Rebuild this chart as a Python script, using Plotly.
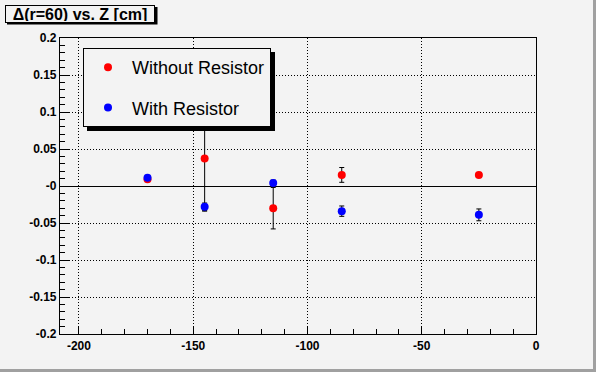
import plotly.graph_objects as go

# ---- data ----
z = [-170, -145, -115, -85, -25]
without_res = [0.009, 0.037, -0.030, 0.015, 0.015]
without_err = [0.002, 0.071, 0.028, 0.010, 0.003]
with_res = [0.011, -0.028, 0.004, -0.034, -0.039]
with_err = [0.003, 0.005, 0.004, 0.007, 0.008]

y_ticks = [0.2, 0.15, 0.1, 0.05, 0.0, -0.05, -0.1, -0.15, -0.2]
y_labels = ["0.2", "0.15", "0.1", "0.05", "-0", "-0.05", "-0.1", "-0.15", "-0.2"]
x_ticks = [-200, -150, -100, -50, 0]
x_labels = ["-200", "-150", "-100", "-50", "0"]

W, H = 596, 372
L, R, T, B = 60, 60, 38, 38
pw, ph = W - L - R, H - T - B
BG = "#f3f3f3"


def px(xp):
    return (xp - L) / pw


def py(yp):
    return (H - B - yp) / ph


fig = go.Figure()
fig.add_trace(go.Scatter(
    x=z, y=without_res, mode="markers", name="Without Resistor",
    legendgroup="a",
    marker=dict(color="#ff0000", size=8),
    error_y=dict(type="data", array=without_err, color="black", thickness=1, width=2.5),
))
fig.add_trace(go.Scatter(
    x=z, y=with_res, mode="markers", name="With Resistor",
    legendgroup="b",
    marker=dict(color="#0000ff", size=8),
    error_y=dict(type="data", array=with_err, color="black", thickness=1, width=2.5),
))

tickfont = dict(family="Liberation Sans", size=12, color="black", weight="bold")

fig.update_xaxes(
    range=[-208.3, 0], tickvals=x_ticks, ticktext=x_labels,
    ticks="inside", ticklen=8, tickwidth=1, tickcolor="black",
    minor=dict(dtick=10, ticks="inside", ticklen=5, tickcolor="black", showgrid=False),
    showgrid=True, gridcolor="black", griddash="1px,2px", gridwidth=1,
    showline=True, linecolor="black", linewidth=1.2, mirror=True,
    zeroline=False, tickfont=tickfont,
)
fig.update_yaxes(
    range=[-0.2, 0.2], tickvals=y_ticks, ticktext=y_labels,
    ticks="inside", ticklen=10, tickwidth=1, tickcolor="black",
    minor=dict(dtick=0.01, tick0=0, ticks="inside", ticklen=5, tickcolor="black", showgrid=False),
    showgrid=True, gridcolor="black", griddash="1px,2px", gridwidth=1,
    showline=True, linecolor="black", linewidth=1.2, mirror=True,
    zeroline=True, zerolinecolor="black", zerolinewidth=1.3,
    tickfont=tickfont,
)

shapes = [
    # legend shadow
    dict(type="rect", xref="paper", yref="paper",
         x0=px(87), x1=px(275), y0=py(131), y1=py(52),
         fillcolor="black", line=dict(width=0), layer="above"),
    # title shadow
    dict(type="rect", xref="paper", yref="paper",
         x0=px(7), x1=px(157.5), y0=py(24.5), y1=py(7),
         fillcolor="black", line=dict(width=0), layer="above"),
    # canvas 3D border
    dict(type="rect", xref="paper", yref="paper",
         x0=px(593), x1=px(597), y0=py(373), y1=py(-1),
         fillcolor="#a0a0a0", line=dict(width=0), layer="above"),
    dict(type="rect", xref="paper", yref="paper",
         x0=px(-1), x1=px(597), y0=py(373), y1=py(369),
         fillcolor="#a0a0a0", line=dict(width=0), layer="above"),
]

fig.update_layout(
    width=W, height=H,
    margin=dict(l=L, r=R, t=T, b=B),
    paper_bgcolor=BG, plot_bgcolor=BG,
    showlegend=True,
    legend=dict(
        x=px(83), y=py(48), xanchor="left", yanchor="top",
        bgcolor=BG, bordercolor="black", borderwidth=1,
        font=dict(family="Liberation Sans", size=18, color="black"),
        traceorder="grouped", tracegroupgap=14, itemwidth=38,
    ),
    shapes=shapes,
    annotations=[dict(
        text="Δ(r=60) vs. Z [cm]", xref="paper", yref="paper",
        x=px(5), y=py(5), xanchor="left", yanchor="top", showarrow=False,
        width=146, height=14, align="center", valign="middle",
        font=dict(family="Liberation Sans", size=16, color="black", weight="bold"),
        bgcolor=BG, bordercolor="black", borderwidth=1, borderpad=1,
    )],
)

fig.write_html("out.html", config={"displayModeBar": False},
               post_script="document.body.style.margin='0';")
